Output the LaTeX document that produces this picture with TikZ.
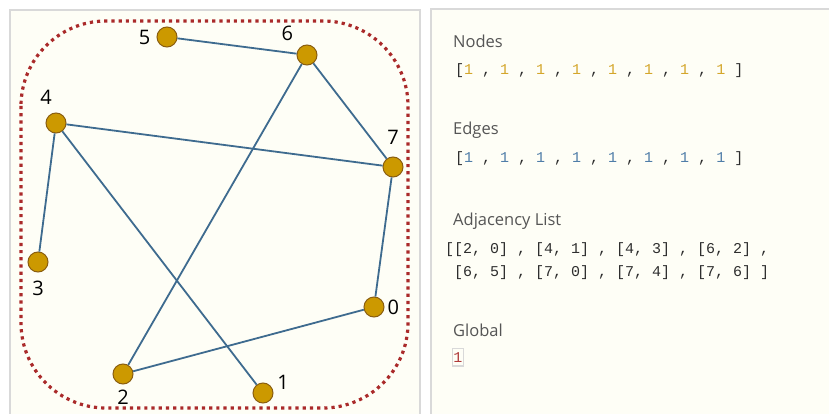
\documentclass[tikz,border=0pt]{standalone}
\usepackage{fontspec}
\setmainfont{Open Sans}
\setmonofont{Liberation Mono}
\usetikzlibrary{positioning}

\definecolor{panelbg}{HTML}{FEFEF6}
\definecolor{panelline}{HTML}{D9D9D9}
\definecolor{vertexfill}{HTML}{CC9900}
\definecolor{vertexline}{HTML}{8A5E10}
\definecolor{edgeblue}{HTML}{3E6B8F}
\definecolor{hullred}{HTML}{AA2A2A}
\definecolor{textgray}{HTML}{555555}
\definecolor{monogray}{HTML}{2E2E2E}
\definecolor{goldone}{HTML}{D4A62A}
\definecolor{blueone}{HTML}{4F7DA8}
\definecolor{redone}{HTML}{B03A3A}

\newcommand{\gd}{\textcolor{goldone}{1}}
\newcommand{\bl}{\textcolor{blueone}{1}}

\tikzset{
  vertex/.style={circle, draw=vertexline, fill=vertexfill, line width=1pt, minimum size=20pt, inner sep=0pt},
  edge/.style={draw=edgeblue, line width=1.8pt},
  lbl/.style={font=\fontsize{20}{20}\selectfont, inner sep=1pt},
  heading/.style={anchor=base west, text=textgray, font=\fontsize{16.5}{16.5}\selectfont, inner sep=0pt},
  listtext/.style={anchor=base west, text=monogray, font=\ttfamily\fontsize{15}{15}\selectfont, inner sep=0pt},
}

\begin{document}
\begin{tikzpicture}[x=1pt, y=-1pt]
  \clip (0,0) rectangle (829,414);
  \fill[white] (0,0) rectangle (829,414);

  % Panels
  \draw[panelline, fill=panelbg, line width=1.2pt] (10,10) rectangle (420,430);
  \draw[panelline, fill=panelbg, line width=1.2pt] (431,9) rectangle (840,430);

  % Dotted hull
  \draw[hullred, line width=3.2pt, dash pattern=on 3.2pt off 4pt, rounded corners=85pt] (21,21) rectangle (408,408);

  % Vertices
  \node[vertex, label={[lbl, label distance=2pt]right:0}] (v0) at (374,307) {};
  \node[vertex, label={[lbl, label distance=3pt]10:1}] (v1) at (263,393) {};
  \node[vertex, label={[lbl, label distance=4pt]below:2}] (v2) at (123,374) {};
  \node[vertex, label={[lbl, label distance=7pt]below:3}] (v3) at (38,262) {};
  \node[vertex, label={[lbl, label distance=7pt]100:4}] (v4) at (56,123) {};
  \node[vertex, label={[lbl, label distance=5pt]left:5}] (v5) at (167,37) {};
  \node[vertex, label={[lbl, label distance=7.5pt]135:6}] (v6) at (307,55) {};
  \node[vertex, label={[lbl, label distance=10.5pt]above:7}] (v7) at (393,167) {};

  % Edges
  \draw[edge] (v2) -- (v0);
  \draw[edge] (v4) -- (v1);
  \draw[edge] (v4) -- (v3);
  \draw[edge] (v6) -- (v2);
  \draw[edge] (v6) -- (v5);
  \draw[edge] (v7) -- (v0);
  \draw[edge] (v7) -- (v4);
  \draw[edge] (v7) -- (v6);

  % Right panel
  \node[heading] (hnodes) at (453,48) {Nodes};
  \node[listtext] (lnodes) at (455,75) {[\gd{} , \gd{} , \gd{} , \gd{} , \gd{} , \gd{} , \gd{} , \gd{} ]};
  \node[heading] (hedges) at (453,135) {Edges};
  \node[listtext] (ledges) at (455,163) {[\bl{} , \bl{} , \bl{} , \bl{} , \bl{} , \bl{} , \bl{} , \bl{} ]};
  \node[heading] (hadj) at (453,225) {Adjacency List};
  \node[listtext] (ladja) at (445,253) {[[2, 0] , [4, 1] , [4, 3] , [6, 2] ,};
  \node[listtext] (ladjb) at (454,276) {[6, 5] , [7, 0] , [7, 4] , [7, 6] ]};
  \node[heading] (hglobal) at (453,336) {Global};
  \node[listtext, text=redone, draw=panelline, line width=1.2pt, inner xsep=0.8pt, inner ysep=4pt] (lglobal) at (452,362) {1};
\end{tikzpicture}
\end{document}
